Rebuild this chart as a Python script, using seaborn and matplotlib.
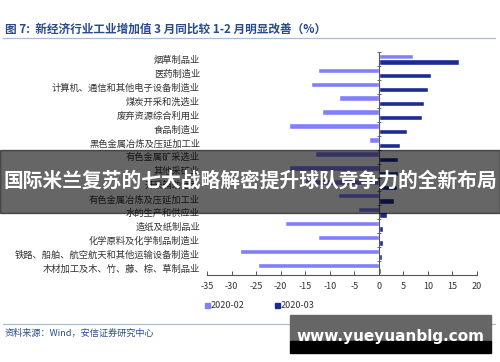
import numpy as np
import pandas as pd
import matplotlib
matplotlib.use("Agg")
import matplotlib.pyplot as plt
from matplotlib.patches import Rectangle
import seaborn as sns

categories = ["烟草制品业", "医药制造业", "计算机、通信和其他电子设备制造业", "煤炭开采和洗选业",
              "废弃资源综合利用业", "食品制造业", "黑色金属冶炼及压延加工业", "有色金属矿采选业",
              "其他采矿业", "开采辅助活动", "有色金属冶炼及压延加工业", "水的生产和供应业",
              "造纸及纸制品业", "化学原料及化学制品制造业", "铁路、船舶、航空航天和其他运输设备制造业",
              "木材加工及木、竹、藤、棕、草制品业"]
feb_values = [6.9, -12.3, -13.8, -8.2, -11.6, -18.2, -2.0, -13.0, -18.2, -15.0, -8.4, -4.3,
              -19.1, -12.3, -28.3, -24.6]
mar_values = [16.3, 10.6, 10.1, 9.3, 8.7, 5.8, 4.3, 4.0, 3.9, 3.7, 3.0, 1.6, 0.9, 0.9, 0.6, 0.4]
series = ["2020-02", "2020-03"]
x_ticks = list(range(-35, 21, 5))

sns.set_theme(style="white")
plt.rcParams['font.family'] = ['Noto Sans CJK SC', 'DejaVu Sans']

df = pd.DataFrame({
    "行业": categories * 2,
    "值": feb_values + mar_values,
    "月份": [series[0]] * len(categories) + [series[1]] * len(categories),
})

light = "#8080ff"
dark = "#1b2b94"

fig = plt.figure(figsize=(5, 3.62), dpi=100)
ax = fig.add_axes([0.414, 0.240, 0.540, 0.616])
sns.barplot(data=df, y="行业", x="值", hue="月份", orient="h", palette=[light, dark],
            width=0.78, ax=ax, legend=False, saturation=1)

ax.set_xlim(-35, 20)
ax.set_xticks(x_ticks)
ax.set_xticklabels([str(t) for t in x_ticks], fontsize=6.5, color="#333333")
ax.set_ylim(len(categories) - 0.5, -0.5)
ax.set_yticks(range(len(categories)))
ax.set_yticklabels(categories, fontsize=6.7, color="#333333")
ax.tick_params(axis="y", length=0, pad=5)
ax.tick_params(axis="x", direction="in", length=3, width=0.7, color="#555555", pad=5, bottom=True)
ax.set_xlabel("")
ax.set_ylabel("")
for s in ["top", "right", "left"]:
    ax.spines[s].set_visible(False)
ax.spines["bottom"].set_color("#555555")
ax.spines["bottom"].set_linewidth(0.8)
ax.axvline(0, color="#555555", lw=0.8, zorder=3)
ax.scatter(np.zeros(len(categories) + 1), np.arange(len(categories) + 1) - 0.5,
           marker="_", s=6, color="#555555", linewidths=0.6, zorder=3, clip_on=False)

# Title and rules
fig.text(0.01, 1 - 29 / 362, "图 7:  新经济行业工业增加值 3 月同比较 1-2 月明显改善（%）",
         fontsize=8.4, fontweight="bold", color="#2b4a8c", va="center", ha="left")
fig.add_artist(plt.Line2D([0.006, 0.99], [1 - 38 / 362] * 2, color="#a9bcd2", lw=0.9))
fig.add_artist(plt.Line2D([0.006, 0.99], [1 - 324 / 362] * 2, color="#a9bcd2", lw=0.9))
fig.text(0.01, 1 - 333 / 362, "资料来源：Wind，安信证券研究中心", fontsize=6.6, style="italic",
         color="#2b4a8c", va="center", ha="left")

# Legend
for lx, col, lab in [(205, light, series[0]), (275, dark, series[1])]:
    fig.add_artist(Rectangle((lx / 500, 1 - 308 / 362), 5 / 500, 5 / 362,
                             transform=fig.transFigure, color=col))
    fig.text((lx + 6) / 500, 1 - 305.5 / 362, lab, fontsize=6.5, color="#333333",
             va="center", ha="left")

# Overlay banner
fig.add_artist(Rectangle((0, 1 - 213 / 362), 1, 63 / 362, transform=fig.transFigure,
                         color="black", alpha=0.6, zorder=10))
fig.text(0.5, 1 - 181 / 362, "国际米兰复苏的七大战略解密提升球队竞争力的全新布局",
         fontsize=14.2, fontweight="bold", color="white", ha="center", va="center", zorder=11)

# Watermark box
fig.add_artist(Rectangle((290 / 500, 1 - 341 / 362), 201 / 500, 26 / 362,
                         transform=fig.transFigure, color="#666666", zorder=10))
fig.add_artist(Rectangle((290 / 500, 1 - 353 / 362), 201 / 500, 12 / 362,
                         transform=fig.transFigure, color="black", zorder=10))
fig.text(390 / 500, 1 - 336 / 362, "www.yueyuanblg.com", fontsize=11, fontweight="bold",
         color="white", ha="center", va="center", zorder=11, family="DejaVu Sans")

fig.savefig("out.png", dpi=100)
